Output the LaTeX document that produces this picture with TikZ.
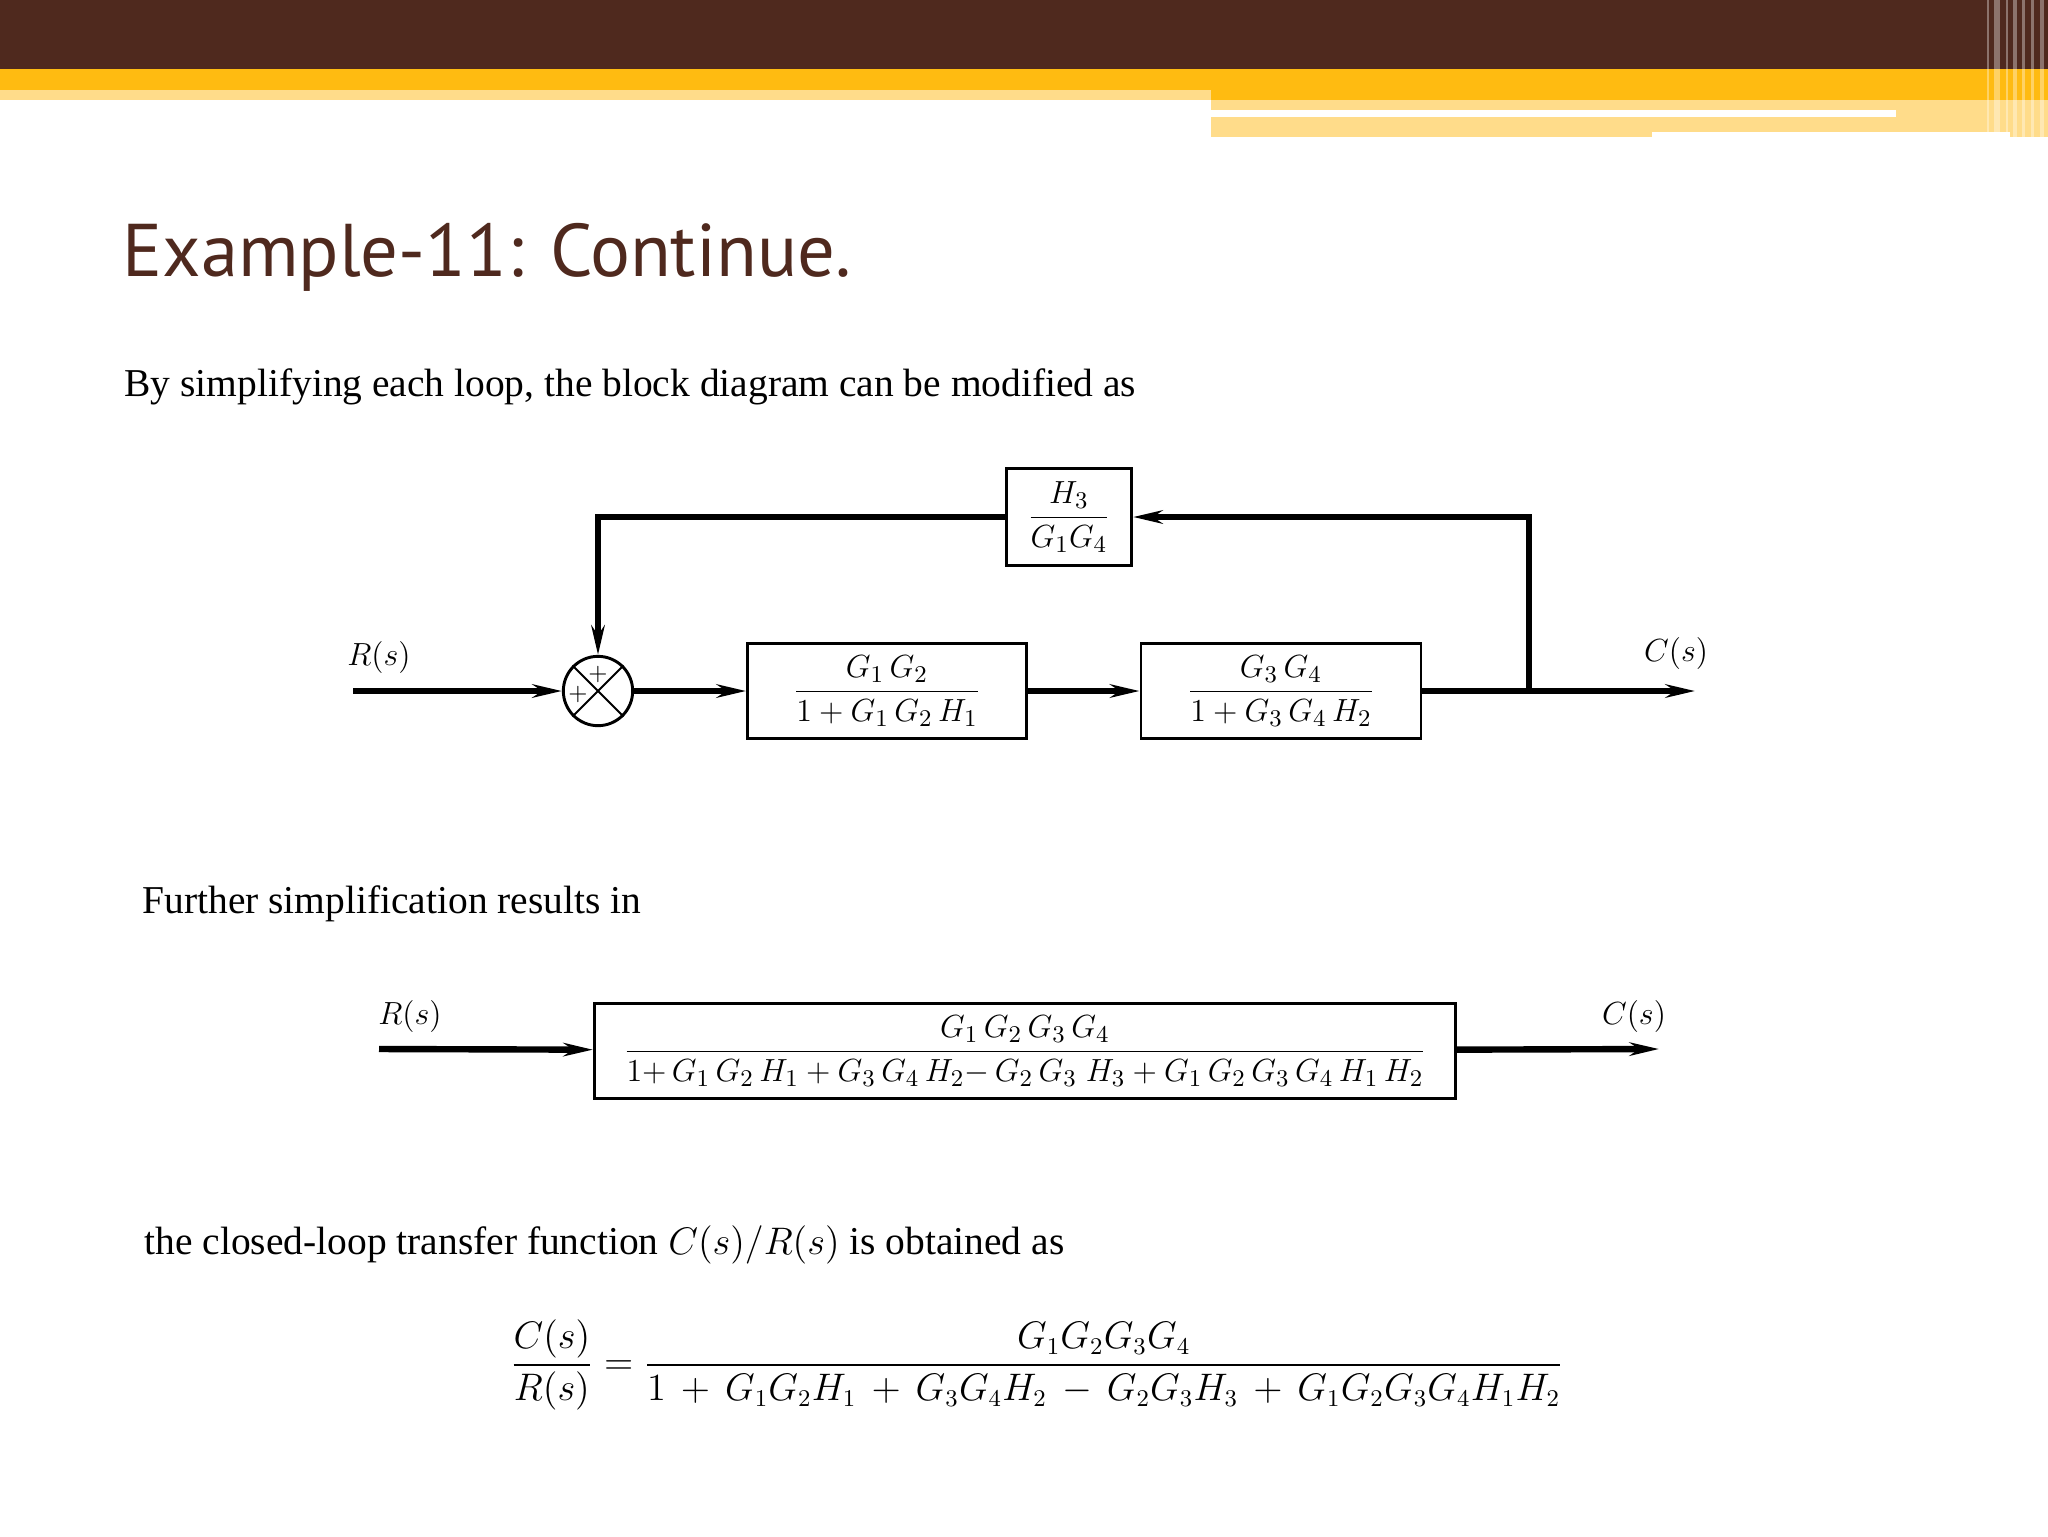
\documentclass[tikz,border=0pt]{standalone}
\usepackage{amsmath}
\usepackage{fontspec}
\setmainfont{Liberation Serif}
\newfontfamily\titlefont{PT Sans}
\usetikzlibrary{arrows.meta}
\definecolor{brownbar}{HTML}{4F291E}
\definecolor{goldbar}{HTML}{FFBB11}
\definecolor{lightgold}{HTML}{FFDC8A}
\begin{document}
\begin{tikzpicture}[x=0.375pt,y=-0.375pt,
  thickline/.style={line width=2.4pt},
  arr/.style={thickline,-{Stealth[length=11pt,width=5pt]}},
  blockbox/.style={draw,line width=1.1pt,minimum width=#1,minimum height=35.6pt,inner sep=0pt},
  lbl/.style={font=\fontsize{13}{15}\selectfont},
  body/.style={font=\fontsize{14.8}{17}\selectfont,anchor=base west,inner sep=0pt}]
\useasboundingbox (0,0) rectangle (2048,1536);
% header bands
\fill[brownbar] (0,0) rectangle (2048,69);
\fill[goldbar] (0,69) rectangle (2048,90);
\fill[lightgold] (0,90) rectangle (1211,100);
\fill[goldbar] (1211,90) rectangle (2048,100);
\fill[lightgold] (1211,100) rectangle (2048,137);
\fill[white] (1211,110) rectangle (1896,117);
\fill[white] (1652,132) rectangle (2010,137);
\foreach \xx/\w in {1987/2,1994/6,2006/2,2013/4,2022/3,2031/3,2040/4}{
  \fill[white,opacity=0.35] (\xx,0) rectangle (\xx+\w,137);}
% texts
\node[anchor=base west,inner sep=0pt,text=brownbar,font=\titlefont\fontsize{28}{33}\selectfont] (title) at (122,276) {Example-11: Continue.};
\node[body] (t1) at (124,396) {By simplifying each loop, the block diagram can be modified as};
\node[body] (t2) at (142,913) {Further simplification results in};
\node[body] (t3) at (144,1254) {the closed-loop transfer function $C(s)/R(s)$ is obtained as};
% first diagram
\coordinate (rin) at (353,691);
\node[lbl] (rs1) at (379,657) {$R(s)$};
\node[draw,circle,line width=1.1pt,minimum size=26pt,inner sep=0pt] (sum) at (598,691) {};
\draw[line width=0.7pt] (sum.north west) -- (sum.south east) (sum.north east) -- (sum.south west);
\node[font=\fontsize{9}{9}\selectfont] (p1) at (598,674) {$+$};
\node[font=\fontsize{9}{9}\selectfont] (p2) at (578,694) {$+$};
\node[blockbox=104.6pt,lbl] (b1) at (887,691) {$\dfrac{G_1\,G_2}{1+G_1\,G_2\,H_1}$};
\node[blockbox=105pt,lbl] (b2) at (1281,691) {$\dfrac{G_3\,G_4}{1+G_3\,G_4\,H_2}$};
\node[draw,line width=1.1pt,minimum width=47pt,minimum height=36.4pt,inner sep=0pt,lbl] (h3) at (1069,517) {$\dfrac{H_3}{G_1G_4}$};
\coordinate (cout) at (1695,691);
\coordinate (tap) at (1529,691);
\node[lbl] (cs1) at (1676,653) {$C(s)$};
\draw[arr] (rin) -- (sum);
\draw[arr] (sum) -- (b1);
\draw[arr] (b1) -- (b2);
\draw[arr] (b2) -- (cout);
\draw[arr] (tap) |- (h3);
\draw[arr] (h3) -| (sum);
% second diagram
\coordinate (rin2) at (379,1049);
\coordinate (cout2) at (1659,1049);
\node[lbl] (rs2) at (410,1016) {$R(s)$};
\node[lbl] (cs2) at (1634,1016) {$C(s)$};
\node[blockbox=323pt,font=\fontsize{12.3}{14}\selectfont] (b3) at (1025,1051) {$\dfrac{G_1\,G_2\,G_3\,G_4}{1{+}\,G_1\,G_2\,H_1+G_3\,G_4\,H_2{-}\,G_2\,G_3\;H_3+G_1\,G_2\,G_3\,G_4\,H_1\,H_2}$};
\draw[arr] (rin2) -- (b3);
\draw[arr] (b3) -- (cout2);
% final equation
\node[font=\fontsize{13.3}{16}\selectfont] (eq) at (1037,1365) {$\dfrac{C(s)}{R(s)}=\dfrac{G_1G_2G_3G_4}{1\,+\,G_1G_2H_1\,+\,G_3G_4H_2\,-\,G_2G_3H_3\,+\,G_1G_2G_3G_4H_1H_2}$};
\end{tikzpicture}
\end{document}
